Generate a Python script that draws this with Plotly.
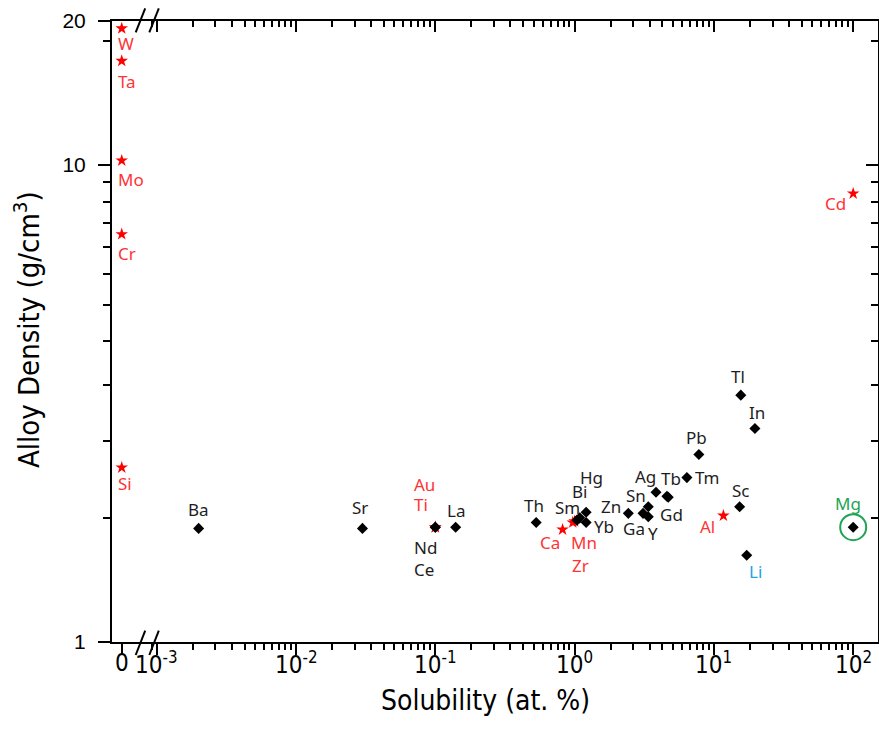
import math
import plotly.graph_objects as go

# Additions with zero solubility in Mg: density of the alloy = element density
zero_elems = ["W", "Ta", "Mo", "Cr", "Si"]
zero_density = [19.3, 16.5, 10.2, 7.15, 2.32]

# Additions marked with red stars (finite solubility)
star_elems = ["Au", "Ti", "Ca", "Mn", "Zr", "Al", "Cd"]
star_sol = [0.1, 0.1, 0.82, 1.0, 0.97, 11.7, 100]
star_density = [1.74, 1.74, 1.72, 1.79, 1.78, 1.84, 8.7]

# Additions marked with black diamonds
dia_elems = ["Ba", "Sr", "Nd", "Ce", "La", "Th", "Sm", "Bi", "Hg", "Yb", "Zn", "Ga",
             "Y", "Sn", "Ag", "Tb", "Gd", "Tm", "Pb", "Tl", "In", "Sc", "Li", "Mg"]
dia_sol = [0.0020, 0.030, 0.1, 0.1, 0.14, 0.53, 1.04, 1.09, 1.21, 1.21, 2.43, 3.1,
           3.38, 3.38, 3.84, 4.6, 4.7, 6.4, 7.8, 15.6, 19.7, 15.3, 17.2, 100]
dia_density = [1.73, 1.73, 1.74, 1.74, 1.74, 1.78, 1.80, 1.82, 1.87, 1.78, 1.86, 1.86,
               1.83, 1.92, 2.06, 2.02, 2.01, 2.21, 2.47, 3.29, 2.80, 1.92, 1.52, 1.74]

x_major = [1e-3, 1e-2, 1e-1, 1e0, 1e1, 1e2]
x_major_text = ["10<sup>-3</sup>", "10<sup>-2</sup>", "10<sup>-1</sup>",
                "10<sup>0</sup>", "10<sup>1</sup>", "10<sup>2</sup>"]
y_major = [1, 10, 20]
y_major_text = ["1", "10", "20"]

# label placement: (dx px, dy px downward, xanchor)
label_pos = {
    "W": (-6, 15, "left"), "Ta": (-6, 21, "left"), "Mo": (-6, 19, "left"),
    "Cr": (-6, 19, "left"), "Si": (-6, 16, "left"),
    "Au": (-23, -43, "left"), "Ti": (-23, -23, "left"), "Ca": (-13, 13, "center"),
    "Mn": (9, 21, "center"), "Zr": (8, 43, "center"), "Al": (-16, 11, "center"),
    "Cd": (-18, 10, "center"),
    "Ba": (0, -19, "center"), "Sr": (-2, -21, "center"), "Nd": (-23, 20, "left"),
    "Ce": (-23, 42, "left"), "La": (0, -17, "center"), "Th": (-2, -17, "center"),
    "Sm": (-9, -13, "center"), "Bi": (0, -26, "center"), "Hg": (5, -35, "center"),
    "Yb": (6, 4, "left"), "Zn": (-5, -7, "right"), "Ga": (-9, 15, "center"),
    "Y": (5, 17, "center"), "Sn": (-12, -11, "center"), "Ag": (-11, -16, "center"),
    "Tb": (4, -18, "center"), "Gd": (3, 17, "center"), "Tm": (6, 0, "left"),
    "Pb": (-2, -17, "center"), "Tl": (-3, -19, "center"), "In": (2, -16, "center"),
    "Sc": (1, -16, "center"), "Li": (9, 16, "center"), "Mg": (-5, -24, "center"),
}

RED = "#ff0000"
RED_TXT = "#ff3333"
BLACK_TXT = "#1e1e1e"
label_color = {"Li": "#22a3e3", "Mg": "#1ea453"}

NARROW = "Liberation Sans Narrow, Arial Narrow, DejaVu Sans Condensed, sans-serif"
LABEL_FONT = "Noto Sans, Open Sans, sans-serif"

split = (147 - 112) / 766
log_range = [-3.0696, 2.178]
y_range = [0, math.log10(20)]
xlabel_y = -(663 - 642) / 621   # vertical position of the x tick labels (paper units)

x_minor = [10 ** k * (1 + 9 * i / 11) for k in range(-4, 3) for i in range(1, 11)]
y_minor = [10 ** k * (1 + 9 * i / 11) for k in range(0, 2) for i in range(1, 11)]
y_minor = [v for v in y_minor if v < 20]

fig = go.Figure()

fig.add_trace(go.Scatter(
    x=[0] * len(zero_elems), y=zero_density, mode="markers",
    xaxis="x", yaxis="y",
    marker=dict(symbol="star", size=9.5, color=RED, line=dict(width=0)),
    showlegend=False, hoverinfo="skip"))

fig.add_trace(go.Scatter(
    x=star_sol, y=star_density, mode="markers", xaxis="x2", yaxis="y",
    marker=dict(symbol="star", size=9.5, color=RED, line=dict(width=0)),
    showlegend=False, hoverinfo="skip"))

fig.add_trace(go.Scatter(
    x=dia_sol, y=dia_density, mode="markers", xaxis="x2", yaxis="y",
    marker=dict(symbol="diamond", size=8.5, color="black", line=dict(width=0)),
    showlegend=False, hoverinfo="skip"))

# ring highlighting Mg
mg = dia_elems.index("Mg")
fig.add_trace(go.Scatter(
    x=[dia_sol[mg]], y=[dia_density[mg]], mode="markers", xaxis="x2", yaxis="y",
    marker=dict(symbol="circle-open", size=26, color="#1ea453", line=dict(width=2, color="#1ea453")),
    showlegend=False, hoverinfo="skip"))

# carrier trace for the mirrored top/right axes
fig.add_trace(go.Scatter(x=[None], y=[None], xaxis="x3", yaxis="y2",
                         showlegend=False, hoverinfo="skip"))


def add_label(name, xref, xval, yval, color):
    dx, dy, anchor = label_pos[name]
    fig.add_annotation(
        x=xval, y=math.log10(yval), xref=xref, yref="y", text=name,
        showarrow=False, xanchor=anchor, yanchor="middle",
        xshift=dx, yshift=-dy, font=dict(family=LABEL_FONT, size=17, color=color))


for n, d in zip(zero_elems, zero_density):
    add_label(n, "x", 0, d, RED_TXT)
for n, s, d in zip(star_elems, star_sol, star_density):
    add_label(n, "x2", math.log10(s), d, RED_TXT)
for n, s, d in zip(dia_elems, dia_sol, dia_density):
    add_label(n, "x2", math.log10(s), d, label_color.get(n, BLACK_TXT))

# x tick labels, set just under the tick marks
tick_font = dict(family=NARROW, size=24, color="black")
fig.add_annotation(x=0, y=xlabel_y, xref="x", yref="paper", text="0",
                   showarrow=False, xanchor="center", yanchor="middle", font=tick_font)
for v, t in zip(x_major, x_major_text):
    fig.add_annotation(x=math.log10(v), y=xlabel_y, xref="x2", yref="paper", text=t,
                       showarrow=False, xanchor="center", yanchor="middle", font=tick_font)

axis_common = dict(showline=True, linecolor="black", linewidth=2, showgrid=False,
                   zeroline=False, tickcolor="black", tickwidth=2)

fig.update_layout(
    width=879, height=746,
    margin=dict(l=112, r=1, t=21, b=104),
    plot_bgcolor="white", paper_bgcolor="white",
    xaxis=dict(domain=[0, split], range=[-1, 2.6], type="linear", anchor="y",
               tickmode="array", tickvals=[0], ticks="outside",
               ticklen=11, mirror=True, showticklabels=False, **axis_common),
    xaxis2=dict(domain=[split, 1], range=log_range, type="log", anchor="y",
                tickmode="array", tickvals=x_major, showticklabels=False,
                ticks="outside", ticklen=11,
                minor=dict(tickmode="array", tickvals=x_minor, ticks="outside",
                           ticklen=6, tickwidth=2, tickcolor="black"),
                **axis_common),
    xaxis3=dict(domain=[split, 1], range=log_range, type="log", anchor="y",
                overlaying="x2", side="top", tickmode="array", tickvals=x_major,
                ticks="inside", ticklen=11, showticklabels=False,
                minor=dict(tickmode="array", tickvals=x_minor, ticks="inside",
                           ticklen=6, tickwidth=2, tickcolor="black"),
                **axis_common),
    yaxis=dict(domain=[0, 1], range=y_range, type="log", anchor="x",
               tickmode="array", tickvals=y_major, ticktext=y_major_text,
               ticks="outside", ticklen=12, ticklabelstandoff=8,
               minor=dict(tickmode="array", tickvals=y_minor, ticks="outside",
                          ticklen=7, tickwidth=2, tickcolor="black"),
               tickfont=dict(family="Liberation Sans, Arial, sans-serif", size=21, color="black"),
               **axis_common),
    yaxis2=dict(domain=[0, 1], range=y_range, type="log", anchor="x2",
                overlaying="y", side="right", tickmode="array", tickvals=y_major,
                ticks="inside", ticklen=12, showticklabels=False,
                minor=dict(tickmode="array", tickvals=y_minor, ticks="inside",
                           ticklen=7, tickwidth=2, tickcolor="black"),
                **axis_common),
)

# axis titles
fig.add_annotation(x=(485 - 112) / 766, y=-(700 - 642) / 621, xref="paper", yref="paper",
                   text="Solubility (at. %)", showarrow=False,
                   xanchor="center", yanchor="middle",
                   font=dict(family=NARROW, size=28, color="black"))
fig.add_annotation(x=-(112 - 27) / 766, y=(642 - 330) / 621, xref="paper", yref="paper",
                   text="Alloy Density (g/cm<sup>3</sup>)", showarrow=False, textangle=-90,
                   xanchor="center", yanchor="middle",
                   font=dict(family=NARROW, size=29, color="black"))

# axis-break marks on the bottom and top axes
for x0 in (135.7, 149.3):
    for yb, yt in ((655, 630.7), (32.3, 8.3)):
        fig.add_shape(type="line", xref="paper", yref="paper",
                      x0=(x0 - 112) / 766, x1=(x0 + 9.5 - 112) / 766,
                      y0=(642 - yb) / 621, y1=(642 - yt) / 621,
                      line=dict(color="black", width=2))

fig.write_html("out.html")
